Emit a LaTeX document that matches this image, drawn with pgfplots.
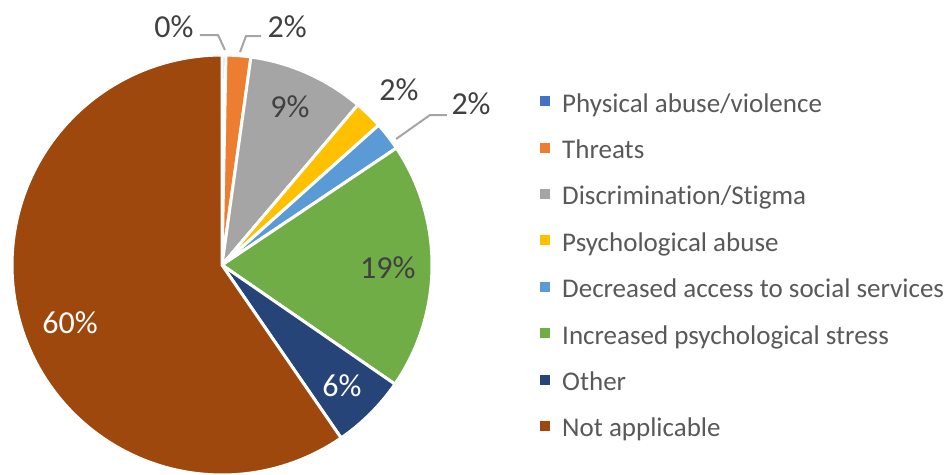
\documentclass[border=0pt]{standalone}
\usepackage{pgfplots}
\pgfplotsset{compat=1.18}
\usepackage{fontspec}
\setmainfont{Carlito}[Ligatures=NoCommon]
\definecolor{cPhys}{HTML}{4472C4}
\definecolor{cThr}{HTML}{ED7D31}
\definecolor{cDis}{HTML}{A5A5A5}
\definecolor{cPsy}{HTML}{FFC000}
\definecolor{cDec}{HTML}{5B9BD5}
\definecolor{cStr}{HTML}{70AD47}
\definecolor{cOth}{HTML}{264478}
\definecolor{cNA}{HTML}{9E480E}
\definecolor{lblgray}{HTML}{404040}
\definecolor{leggray}{HTML}{595959}
\definecolor{leader}{HTML}{A5A5A5}
\gdef\cum{0}
% one slice: value (percent), colour; slices run clockwise from 12 o'clock
\newcommand{\slice}[2]{%
  \pgfmathsetmacro{\aS}{90-3.6*(\cum+#1)}%
  \pgfmathsetmacro{\aE}{90-3.6*(\cum)}%
  \addplot[fill=#2, draw=white, line width=3pt, line join=round,
    domain=\aS:\aE, samples=120, variable=\t] ({cos(\t)},{sin(\t)}) -- (axis cs:0,0) -- cycle;
  \pgfmathsetmacro{\newcum}{\cum+#1}%
  \global\let\cum\newcum}
\begin{document}
\begin{tikzpicture}
\useasboundingbox (-222pt,-209pt) rectangle (727pt,265pt);
\begin{axis}[
  at={(0,0)}, anchor=origin,
  scale only axis, width=420pt, height=420pt,
  xmin=-1, xmax=1, ymin=-1, ymax=1,
  hide axis, clip=false,
  area legend,
  legend image code/.code={\fill[#1, draw=none] (0pt,-1pt) rectangle (10pt,9pt);},
  legend cell align=left,
  legend style={at={(axis cs:1.50,-0.012)}, anchor=west, draw=none, fill=none,
    font=\fontsize{27}{32}\selectfont, text=leggray,
    nodes={inner sep=0pt, text height=20pt, text depth=6pt},
    row sep=20.4pt,
    /tikz/every odd column/.append style={column sep=12pt}},
]
\slice{0.3}{cPhys}  \addlegendentry{Physical abuse/violence}
\slice{1.9}{cThr}   \addlegendentry{Threats}
\slice{9.0}{cDis}   \addlegendentry{Discrimination/Stigma}
\slice{2.2}{cPsy}   \addlegendentry{Psychological abuse}
\slice{2.2}{cDec}   \addlegendentry{Decreased access to social services}
\slice{19.0}{cStr}  \addlegendentry{Increased psychological stress}
\slice{5.8}{cOth}   \addlegendentry{Other}
\slice{59.6}{cNA}   \addlegendentry{Not applicable}

\draw[leader, line width=2pt] (axis cs:-0.105,1.095) -- (axis cs:-0.019,1.095) -- (axis cs:0.014,1.024);
\draw[leader, line width=2pt] (axis cs:0.086,1.014) -- (axis cs:0.114,1.090) -- (axis cs:0.186,1.090);
\draw[leader, line width=2pt] (axis cs:0.829,0.600) -- (axis cs:0.990,0.714) -- (axis cs:1.071,0.714);

\begin{scope}[every node/.style={font=\fontsize{32}{38}\selectfont, text=lblgray, inner sep=0pt}]
\node at (axis cs:-0.229,1.133) {0\%};
\node at (axis cs:0.310,1.133) {2\%};
\node at (axis cs:0.324,0.752) {9\%};
\node at (axis cs:0.843,0.833) {2\%};
\node at (axis cs:1.186,0.767) {2\%};
\node at (axis cs:0.790,-0.014) {19\%};
\node[text=white] at (axis cs:0.571,-0.576) {6\%};
\node[text=white] at (axis cs:-0.724,-0.276) {60\%};
\end{scope}
\end{axis}
\end{tikzpicture}
\end{document}
